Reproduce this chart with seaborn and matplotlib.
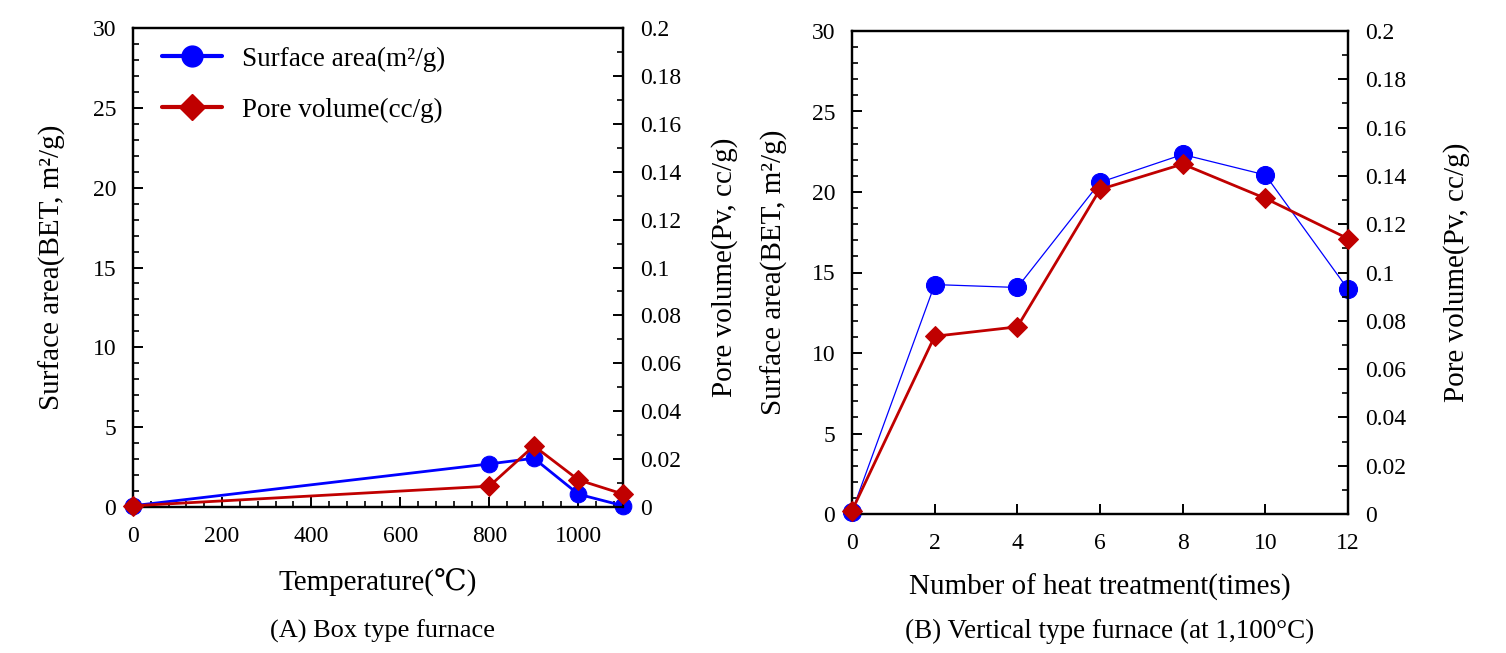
import numpy as np
import pandas as pd
import matplotlib
matplotlib.use("Agg")
import matplotlib.pyplot as plt
from matplotlib.ticker import MultipleLocator
from matplotlib.lines import Line2D
import seaborn as sns

# ---- data ----
temp_c = [0, 800, 900, 1000, 1100]
temp_sa = [0.08, 2.7, 3.05, 0.8, 0.08]
temp_pv = [0.0005, 0.0087, 0.0255, 0.0113, 0.0054]

times = [0, 2, 4, 6, 8, 10, 12]
times_sa = [0.15, 14.25, 14.07, 20.6, 22.33, 21.06, 13.96]
times_pv = [0.0014, 0.0736, 0.0775, 0.1344, 0.1449, 0.1307, 0.114]

sa_label = "Surface area(m\u00b2/g)"
pv_label = "Pore volume(cc/g)"
ylab_left = "Surface area(BET, m\u00b2/g)"
ylab_right = "Pore volume(Pv, cc/g)"
xlab_a = "Temperature(\u2103)"
xlab_b = "Number of heat treatment(times)"
cap_a = "(A) Box type furnace"
cap_b = "(B) Vertical type furnace (at 1,100\u00b0C)"

BLUE = "#0000FF"
RED = "#C00000"

sns.set_style("ticks")
plt.rcParams['font.family'] = ['Liberation Serif', 'DejaVu Serif', 'DejaVu Sans']
for k in ("text.color", "axes.labelcolor", "xtick.color", "ytick.color"):
    plt.rcParams[k] = "black"

fig = plt.figure(figsize=(15.06, 6.53), dpi=100)
axA = fig.add_axes([133/1506, 1-507/653, (623-133)/1506, (507-28)/653])
axB = fig.add_axes([852/1506, 1-514/653, (1348-852)/1506, (514-31)/653])

TICK_FS = 17
LAB_FS = 21


def style(ax, ax2, xmax, xmajor, xminor):
    ax.set_xlim(0, xmax)
    ax.set_ylim(0, 30)
    ax2.set_ylim(0, 0.2)
    ax.xaxis.set_major_locator(MultipleLocator(xmajor))
    if xminor:
        ax.xaxis.set_minor_locator(MultipleLocator(xminor))
    ax.yaxis.set_major_locator(MultipleLocator(5))
    ax.yaxis.set_minor_locator(MultipleLocator(1))
    ax2.yaxis.set_major_locator(MultipleLocator(0.02))
    ax2.yaxis.set_minor_locator(MultipleLocator(0.01))
    ax2.yaxis.set_major_formatter(plt.FuncFormatter(lambda v, p: "0" if abs(v) < 1e-9 else ("%g" % round(v, 3))))
    for a in (ax, ax2):
        for s in a.spines.values():
            s.set_linewidth(1.6)
            s.set_color("black")
            s.set_visible(True)
    ax.tick_params(axis="both", which="both", direction="in", labelsize=TICK_FS, top=False, right=False,
                   colors="black")
    ax.tick_params(axis="x", which="both", pad=14)
    ax.tick_params(axis="y", which="both", pad=12)
    ax.tick_params(axis="both", which="major", length=7, width=1.4)
    ax.tick_params(axis="both", which="minor", length=4, width=1.2)
    ax2.tick_params(axis="y", which="both", direction="in", labelsize=TICK_FS, pad=12, colors="black")
    ax2.tick_params(axis="y", which="major", length=7, width=1.4)
    ax2.tick_params(axis="y", which="minor", length=4, width=1.2)


# ---- panel A ----
dfA = pd.DataFrame({"x": temp_c, "sa": temp_sa, "pv": temp_pv})
axA2 = axA.twinx()
sns.lineplot(data=dfA, x="x", y="sa", ax=axA, color=BLUE, lw=2, marker="o", markersize=12,
             markeredgecolor=BLUE, clip_on=False, legend=False, zorder=4)
sns.lineplot(data=dfA, x="x", y="pv", ax=axA2, color=RED, lw=2, marker="D", markersize=10.5,
             markeredgecolor=RED, clip_on=False, legend=False, zorder=3)
style(axA, axA2, 1100, 200, 40)
axA.set_xlabel(xlab_a, fontsize=LAB_FS, labelpad=15)
axA.set_ylabel(ylab_left, fontsize=LAB_FS, labelpad=19)
axA2.set_ylabel(ylab_right, fontsize=LAB_FS, labelpad=22)

hs = [Line2D([], [], color=BLUE, lw=3, marker="o", markersize=15, markeredgecolor=BLUE),
      Line2D([], [], color=RED, lw=3, marker="D", markersize=13, markeredgecolor=RED)]
axA2.legend(hs, [sa_label, pv_label], loc="upper left", bbox_to_anchor=(0.01, 1.012), frameon=False,
            fontsize=19.5, handlelength=2.2, labelspacing=0.95, handletextpad=0.75)

# ---- panel B ----
dfB = pd.DataFrame({"x": times, "sa": times_sa, "pv": times_pv})
axB2 = axB.twinx()
sns.lineplot(data=dfB, x="x", y="sa", ax=axB, color=BLUE, lw=0.9, marker="o", markersize=13,
             markeredgecolor=BLUE, clip_on=False, legend=False, zorder=3)
sns.lineplot(data=dfB, x="x", y="pv", ax=axB2, color=RED, lw=2, marker="D", markersize=10,
             markeredgecolor=RED, clip_on=False, legend=False, zorder=4)
style(axB, axB2, 12, 2, None)
axB.set_xlabel(xlab_b, fontsize=LAB_FS, labelpad=14)
axB.set_ylabel(ylab_left, fontsize=LAB_FS, labelpad=17)
axB2.set_ylabel(ylab_right, fontsize=LAB_FS, labelpad=27)

fig.text(383/1506, 1-631/653, cap_a, fontsize=19, ha="center", va="center")
fig.text(1110/1506, 1-631/653, cap_b, fontsize=19.5, ha="center", va="center")

fig.savefig("out.png", dpi=100)
